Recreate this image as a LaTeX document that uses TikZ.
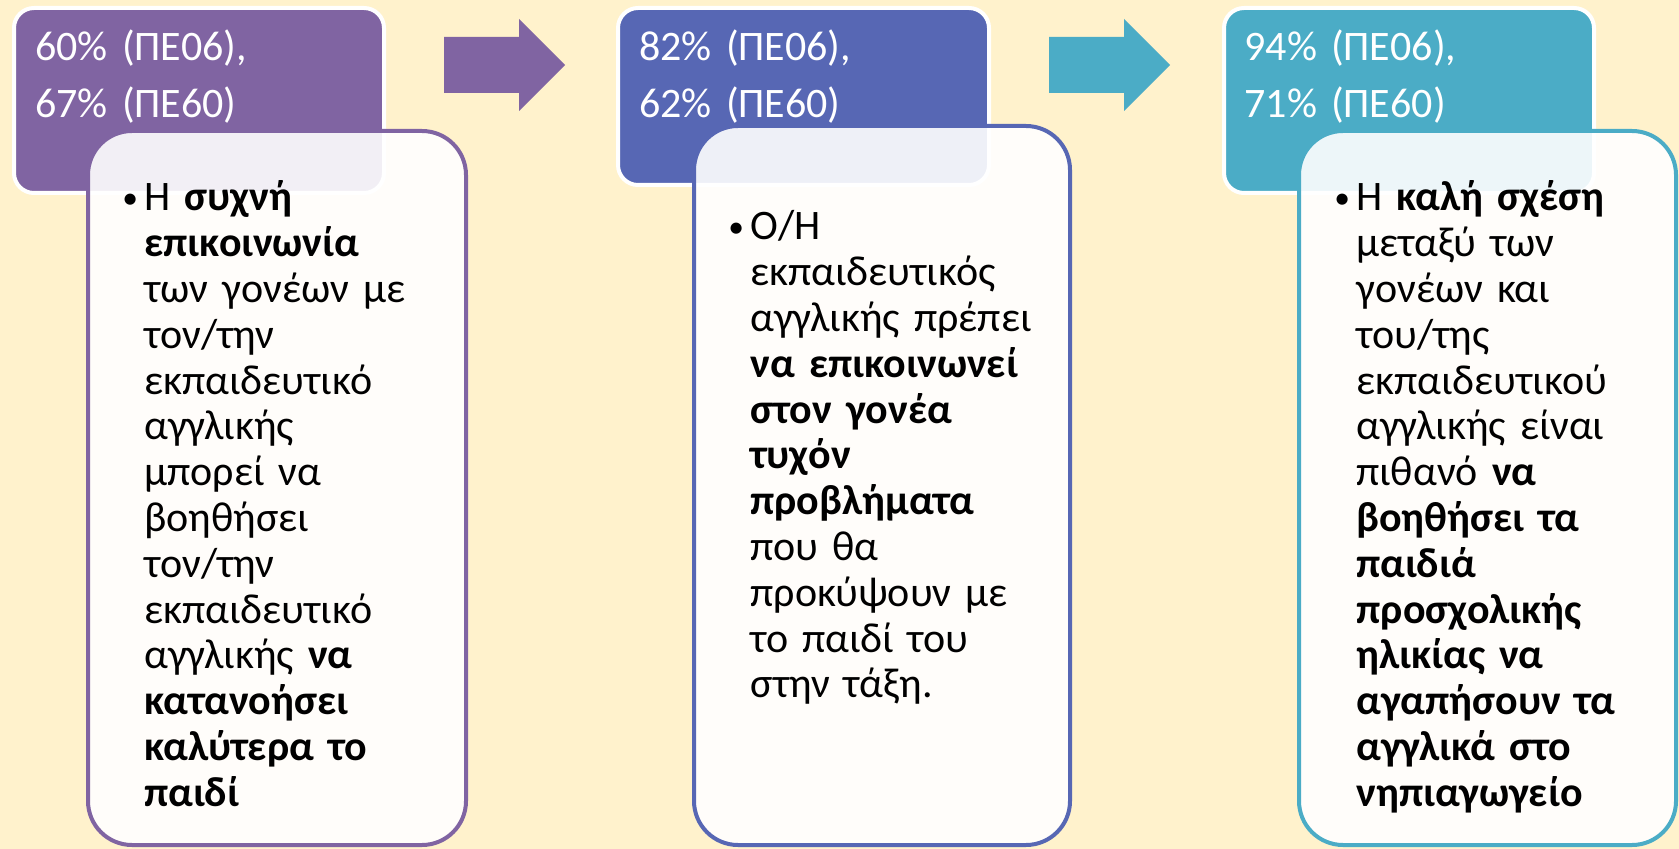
\documentclass[tikz,border=0pt]{standalone}
\usepackage{graphicx}
\usepackage{fontspec}
\setmainfont{Carlito}
\definecolor{bgyellow}{HTML}{FFF2CC}
\definecolor{stagepurple}{HTML}{8064A2}
\definecolor{stageblue}{HTML}{5767B4}
\definecolor{stageteal}{HTML}{4BACC6}
\tikzset{
  headbox/.style={draw=white, line width=2pt, rounded corners=10pt, fill=#1},
  notebox/.style={draw=#1, line width=2pt, rounded corners=22pt, fill=white, fill opacity=0.9},
  headtext/.style={anchor=base west, inner sep=0pt, text width=170pt, text=white,
    font=\fontsize{21}{28.5}\selectfont, align=left},
  notetext/.style={anchor=base west, inner sep=0pt, text width=160pt,
    font=\fontsize{21}{22.9}\selectfont, align=left},
  stagearrow/.style={fill=#1, draw=none},
}
\newcommand{\notebullet}{\llap{\makebox[11pt][l]{\raisebox{1.3pt}{\scalebox{0.75}{•}}}}}

\begin{document}
\begin{tikzpicture}[x=0.5pt, y=-0.5pt]
    \useasboundingbox (0,0) rectangle (1679,849);
    \fill[bgyellow] (0,0) rectangle (1679,849);
    % stage 1
    \draw[headbox=stagepurple] (14,8) rectangle (384,193);
    \draw[notebox=stagepurple] (88,131) rectangle (466,845);
    \node[headtext] (head1) at (35,61) {60\% (ΠΕ06),\\67\% (ΠΕ60)};
    \node[notetext] (note1) at (144,211) {\notebullet Η \textbf{συχνή}\\ \textbf{επικοινωνία}\\ των γονέων με\\ τον/την\\ εκπαιδευτικό\\ αγγλικής\\ μπορεί να\\ βοηθήσει\\ τον/την\\ εκπαιδευτικό\\ αγγλικής \textbf{να}\\ \textbf{κατανοήσει}\\ \textbf{καλύτερα το}\\ \textbf{παιδί}};
    \fill[stagearrow=stagepurple] (444,37) -- (519,37) -- (519,19) -- (565,65) -- (519,111) -- (519,93) -- (444,93) -- cycle;
    % stage 2
    \draw[headbox=stageblue] (618,8) rectangle (989,185);
    \draw[notebox=stageblue] (694,126) rectangle (1070,845);
    \node[headtext] (head2) at (639,61) {82\% (ΠΕ06),\\62\% (ΠΕ60)};
    \node[notetext] (note2) at (750,240) {\notebullet Ο/Η\\ εκπαιδευτικός\\ αγγλικής πρέπει\\ \textbf{να επικοινωνεί}\\ \textbf{στον γονέα}\\ \textbf{τυχόν}\\ \textbf{προβλήματα}\\ που θα\\ προκύψουν με\\ το παιδί του\\ στην τάξη.};
    \fill[stagearrow=stageteal] (1049,37) -- (1124,37) -- (1124,19) -- (1170,65) -- (1124,111) -- (1124,93) -- (1049,93) -- cycle;
    % stage 3
    \draw[headbox=stageteal] (1224,8) rectangle (1594,193);
    \draw[notebox=stageteal] (1299,131) rectangle (1676,845);
    \node[headtext] (head3) at (1244,61) {94\% (ΠΕ06),\\71\% (ΠΕ60)};
    \node[notetext] (note3) at (1356,211) {\notebullet Η \textbf{καλή σχέση}\\ μεταξύ των\\ γονέων και\\ του/της\\ εκπαιδευτικού\\ αγγλικής είναι\\ πιθανό \textbf{να}\\ \textbf{βοηθήσει τα}\\ \textbf{παιδιά}\\ \textbf{προσχολικής}\\ \textbf{ηλικίας να}\\ \textbf{αγαπήσουν τα}\\ \textbf{αγγλικά στο}\\ \textbf{νηπιαγωγείο}};
\end{tikzpicture}
\end{document}
